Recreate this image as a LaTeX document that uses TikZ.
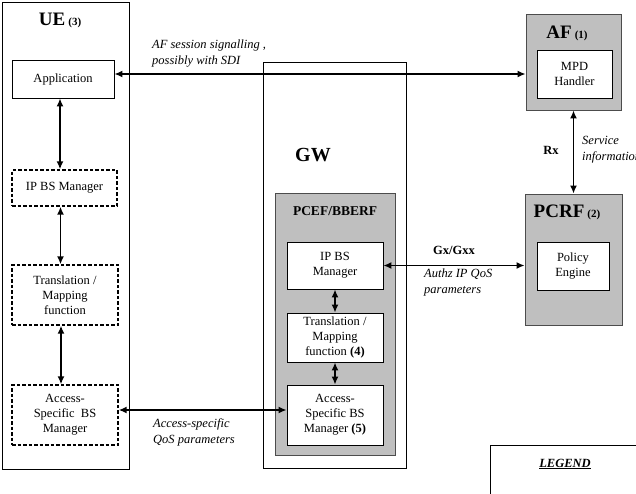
\documentclass[tikz,border=0pt]{standalone}
\usepackage{fontspec}
\setmainfont{Liberation Serif}
\usetikzlibrary{arrows.meta}
\usetikzlibrary{positioning}
\newcommand\boxname[2]{{\fontsize{19}{22}\selectfont\bfseries #1}~{\fontsize{11}{13}\selectfont\bfseries (#2)}}

\begin{document}
\begin{tikzpicture}[x=1pt,y=-1pt,
        font=\fontsize{12.5}{15}\selectfont,
        frame/.style={draw, line width=0.8pt, inner sep=0pt},
        greyframe/.style={frame, fill=gray!50, draw=gray!60!black},
        blk/.style={draw, fill=white, line width=0.8pt, align=center, inner sep=1pt},
        dashblk/.style={blk, line width=1.3pt, dash pattern=on 3.5pt off 2pt},
        link/.style={{Latex[length=8pt,width=7pt]}-{Latex[length=8pt,width=7pt]}, line width=1.6pt},
        note/.style={font=\fontsize{12.5}{16}\selectfont\itshape, align=left, inner sep=0pt},
        tag/.style={font=\fontsize{12.5}{15}\selectfont\bfseries, inner sep=0pt}]
        \clip (0,0) rectangle (636,493);

        % Containers
        \node[frame, minimum width=127, minimum height=467]     (ue)   at (65.5,235.5) {};
        \node[frame, minimum width=143, minimum height=406]     (gw)   at (334.5,265) {};
        \node[greyframe, minimum width=120, minimum height=262] (pcef) at (335,324) {};
        \node[greyframe, minimum width=95, minimum height=96]   (af)   at (573.5,62) {};
        \node[greyframe, minimum width=97, minimum height=131]  (pcrf) at (573.5,259.5) {};
        \node[frame, minimum width=170, minimum height=80, anchor=north west] (legend) at (490,445) {};

        % Titles
        \node at (60,20)   {\boxname{UE}{3}};
        \node at (567,33)  {\boxname{AF}{1}};
        \node at (567,212) {\boxname{PCRF}{2}};
        \node at (313,155) {\fontsize{20}{24}\selectfont\bfseries GW};
        \node[tag, font=\fontsize{13.5}{16}\selectfont\bfseries] at (335,211) {PCEF/BBERF};
        \node at (565,464) {\underline{\textbf{\textit{LEGEND}}}};

        % UE nodes
        \node[blk, minimum width=102, minimum height=38]     (app)      at (63,79)    {Application};
        \node[dashblk, minimum width=105, minimum height=36] (ue-ipbs)  at (64.5,188) {IP BS Manager};
        \node[dashblk, minimum width=106, minimum height=60] (ue-trans) at (65,295)   {Translation /\\Mapping\\function};
        \node[dashblk, minimum width=106, minimum height=60] (ue-acc)   at (65,415)   {Access-\\Specific~~BS\\Manager};

        % GW nodes
        \node[blk, minimum width=96, minimum height=47] (gw-ipbs)  at (335,265.5) {IP BS\\Manager};
        \node[blk, minimum width=96, minimum height=49] (gw-trans) at (335,337.5) {Translation /\\Mapping\\function \textbf{(4)}};
        \node[blk, minimum width=96, minimum height=60] (gw-acc)   at (335,415)   {Access-\\Specific BS\\Manager \textbf{(5)}};

        % AF / PCRF nodes
        \node[blk, minimum width=75, minimum height=48] (mpd)    at (574.5,74) {MPD\\Handler};
        \node[blk, minimum width=72, minimum height=48] (policy) at (573,266)  {Policy\\Engine};

        % Edges
        \draw[link] ([xshift=-3pt]app.south) -- ([xshift=-3pt]app.south |- ue-ipbs.north);
        \draw[link] ([xshift=-4pt]ue-ipbs.south) -- ([xshift=-4pt]ue-ipbs.south |- ue-trans.north);
        \draw[link] ([xshift=-4pt]ue-trans.south) -- ([xshift=-4pt]ue-acc.north);
        \draw[link] (gw-ipbs) -- (gw-trans);
        \draw[link] (gw-trans) -- (gw-acc);
        \draw[link] (mpd.west -| app.east) -- (af.west |- mpd.west);
        \draw[link] (af) -- (pcrf);
        \draw[link] (gw-ipbs.east) -- (gw-ipbs.east -| pcrf.west);
        \draw[link] ([yshift=5pt]ue-acc.east) -- ([yshift=5pt]gw-acc.west);

        % Labels
        \node[note, anchor=west] at (152,54)  {AF session signalling ,\\possibly with SDI};
        \node[tag] at (551,150) {Rx};
        \node[note, anchor=west] at (582,150) {Service\\information};
        \node[tag] at (454,250) {Gx/Gxx};
        \node[note, anchor=west] at (424,282) {Authz IP QoS\\parameters};
        \node[note, anchor=west] at (153,432) {Access-specific\\QoS parameters};
    \end{tikzpicture}
\end{document}
